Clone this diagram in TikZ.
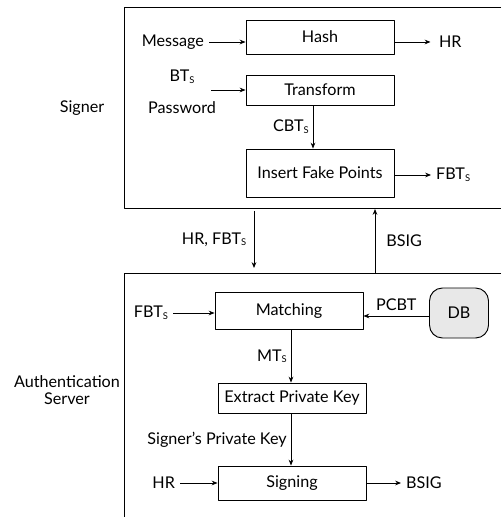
\documentclass[tikz,border=0pt]{standalone}
\usepackage{fontspec}
\setmainfont{Lato}
\usepackage{tikz}
\usetikzlibrary{arrows.meta,calc}
\usetikzlibrary{positioning}
\tikzset{procbox/.style={draw,line width=0.8pt,minimum width=148*0.03cm,inner sep=0pt},
  dbbox/.style={draw,line width=0.8pt,fill=gray!18,rounded corners=11pt,minimum width=59*0.03cm,minimum height=50*0.03cm},
  lbl/.style={inner sep=4pt}}
\newcommand{\lowS}{\raisebox{-0.2ex}{\footnotesize S}}

\begin{document}
\begin{tikzpicture}[x=0.03cm,y=-0.03cm,>={Stealth[length=5pt,width=4pt]},line join=round,font=\fontsize{13.8}{16}\selectfont,line width=0.7pt]
\useasboundingbox (0,0) rectangle (501,517);
% --- Signer
\draw[line width=0.8pt] (501,7) -- (124,7) -- (124,208) -- (501,208);
\node (signer) at (82,108) {Signer};
\node[procbox,minimum height=34*0.03cm] (hash) at (320,37) {Hash};
\node[procbox,minimum height=30*0.03cm] (transform) at (320,90) {Transform};
\node[procbox,minimum height=48*0.03cm] (insert) at (320,173) {Insert Fake Points};
\node[lbl,anchor=east] (msg) at (209,42) {Message};
\node[lbl,anchor=west] (hr) at (434,42) {HR};
\node (bts) at (182,77) {BT\lowS};
\node (pwd) at (182,108) {Password};
\coordinate (pin) at (211,90);
\node[lbl,anchor=west] (fbt) at (431,175) {FBT\lowS};
\draw[->] (msg) -- (msg-|hash.west);
\draw[->,shorten >=3pt] (hash.east|-hr) -- (hr);
\draw[->] (pin) -- (pin-|transform.west);
\draw[->] (insert.east|-fbt) -- (fbt);
\draw[->] (transform.south-|313,0) -- node[left] {CBT\lowS} (insert.north-|313,0);
% --- between
\coordinate (down1) at (254,211);
\coordinate (down2) at (254,268);
\coordinate (up1) at (375,273);
\coordinate (up2) at (375,209);
\draw[->] (down1) -- node[left=3pt] {HR, FBT\lowS} (down2);
\draw[->] (up1) -- node[right=6pt] {BSIG} (up2);
% --- Authentication Server
\draw[line width=0.8pt] (501,273) -- (124,273) -- (124,517);
\node[align=center] (auth) at (67,390) {Authentication\\[-2pt]Server};
\node[procbox,minimum height=37*0.03cm] (match) at (289,311) {Matching};
\node[dbbox] (db) at (459,313) {DB};
\node[procbox,minimum height=30*0.03cm] (extract) at (292,398) {Extract Private Key};
\node[procbox,minimum height=34*0.03cm] (sign) at (292,483) {Signing};
\node[lbl,anchor=east] (fbtin) at (173,313) {FBT\lowS};
\node[lbl,anchor=east] (hrin) at (180,483) {HR};
\node[lbl,anchor=west] (bsig) at (401,483) {BSIG};
\draw[->] (fbtin) -- (fbtin-|match.west);
\draw[->] (db.west|-0,316) -- node[above=1pt] {PCBT} (match.east|-0,316);
\draw[->] (match.south-|291,0) -- node[left] {MT\lowS} (extract.north-|291,0);
\draw[->] (extract.south-|291,0) -- node[left] {Signer's Private Key} (sign.north-|291,0);
\draw[->] (hrin) -- (hrin-|sign.west);
\draw[->] (sign.east|-bsig) -- (bsig);
\end{tikzpicture}
\end{document}
